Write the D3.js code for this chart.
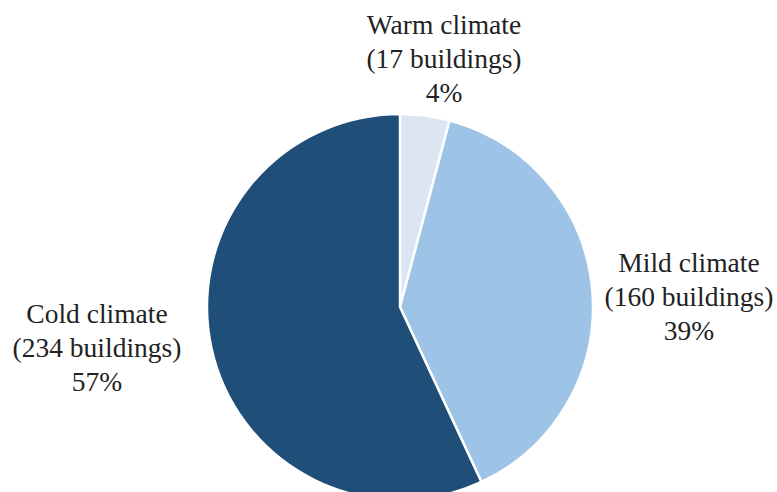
<!DOCTYPE html>
<html><head><meta charset="utf-8">
<script src="https://cdn.jsdelivr.net/npm/d3@7"></script>
<style>body{margin:0;background:#fff}svg{display:block}</style>
</head><body>
<svg id="c" width="777" height="492"></svg>
<script>
const categories = ["Warm climate", "Mild climate", "Cold climate"];
const buildings = [17, 160, 234];
const percentLabels = ["4%", "39%", "57%"];
const colors = ["#dce6f2", "#9dc3e6", "#1f4e79"];

const svg = d3.select("#c");
const cx = 400, cy = 307, r = 193;
const pie = d3.pie().sort(null).value(d => d)(buildings);
const arc = d3.arc().innerRadius(0).outerRadius(r);
const g = svg.append("g").attr("transform", `translate(${cx},${cy})`);
g.selectAll("path").data(pie).join("path")
  .attr("d", arc)
  .attr("fill", (d, i) => colors[i])
  .attr("stroke", "#fff").attr("stroke-width", 2.5);

const labelPos = [[444, 24], [689, 262], [97, 313]];
const lh = 34;
categories.forEach((c, i) => {
  const t = svg.append("text")
    .attr("text-anchor", "middle")
    .attr("font-family", "'Liberation Serif', serif")
    .attr("font-size", 27.5).attr("fill", "#222");
  const lines = [c, `(${buildings[i]} buildings)`, percentLabels[i]];
  lines.forEach((s, j) => {
    t.append("tspan").attr("x", labelPos[i][0]).attr("y", labelPos[i][1] + j * lh)
      .attr("dy", "0.35em").text(s);
  });
});
</script>
</body></html>
